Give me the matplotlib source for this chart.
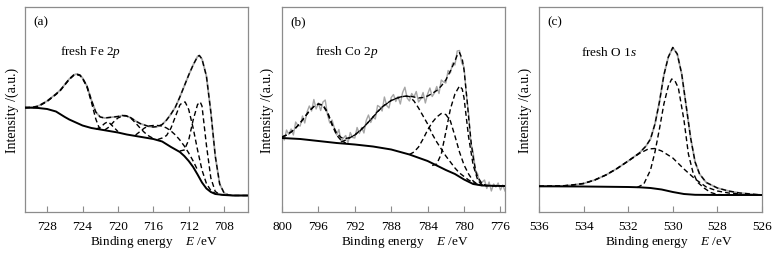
import matplotlib
matplotlib.use("Agg")
import matplotlib.pyplot as plt

plt.rcParams['font.family'] = ['Liberation Serif', 'DejaVu Serif']
plt.rcParams['mathtext.fontset'] = 'custom'
plt.rcParams['mathtext.rm'] = 'Liberation Serif'
plt.rcParams['mathtext.it'] = 'Liberation Serif:italic'

# ---------------- Panel (a): Fe 2p ----------------
a_bg_E = [730.5, 729, 728, 727, 726, 725.5, 725, 724, 723, 722, 721, 720, 719, 718, 717, 716, 715, 714,
          713.5, 713, 712.5, 712, 711.5, 711, 710.5, 710, 709.5, 709, 708, 707, 705.3]
a_bg_v = [104.5, 104, 103, 100.5, 95, 92.5, 90.5, 86.5, 84, 82.5, 81, 79.5, 77.5, 76, 74.5, 73, 70.5, 65,
          62.5, 60, 56, 51, 45, 37.5, 29.5, 23.5, 20, 18, 17, 16.5, 16.5]
a_env_E = [730.5, 729.5, 729, 728.5, 728, 727.5, 727, 726.5, 726, 725.5, 725, 724.7, 724.3, 724, 723.5,
           723, 722.5, 722, 721.5, 721, 720.5, 720, 719.5, 719, 718.5, 718, 717.5, 717, 716.5, 716, 715.5,
           715, 714.5, 714, 713.5, 713, 712.5, 712, 711.5, 711, 710.8, 710.5, 710, 709.5, 709, 708.5, 708,
           707.5, 707, 705.3]
a_env_v = [104, 105, 106, 108.5, 111, 114.5, 118, 122, 127.5, 133, 137, 138, 137, 134, 126,
           112, 100, 95, 94, 94.5, 95, 95.5, 96.5, 96, 94, 91, 88.5, 87, 85.5, 85, 85.5,
           87.5, 92, 98, 105, 115, 126, 137, 147, 155.5, 156.5, 153, 136, 100, 56, 28, 19,
           17, 16.5, 16.5]
a_c1_E = [730.5, 729.5, 729, 728.5, 728, 727.5, 727, 726.5, 726, 725.5, 725, 724.7, 724.3, 724, 723.5, 723, 722.5, 722.2, 722]
a_c1_v = [104.5, 104.5, 105.5, 108, 110.5, 114, 117.5, 121.5, 127, 132.5, 136.5, 137.5, 136.5, 133.5, 125, 110, 93, 86, 82.5]
a_c2_E = [722.5, 722, 721.5, 721.2, 721, 720.5, 720]
a_c2_v = [83, 84.5, 88.5, 90, 89.5, 85, 80.5]
a_c3_E = [721.5, 721, 720.5, 720, 719.5, 719.2, 719, 718.5, 718, 717.5, 717, 716.5, 716]
a_c3_v = [82, 85, 90, 94, 96, 96.5, 96, 93.5, 89, 84, 79.5, 76, 73.5]
a_c4_E = [718, 717.5, 717, 716.5, 716, 715.5, 715, 714.5, 714, 713.5, 713, 712.5, 712, 711.5, 711]
a_c4_v = [77, 80.5, 84, 86, 86.5, 86.5, 86, 84, 81, 77, 72, 66, 59, 51, 42]
a_c5_E = [715.5, 715, 714.5, 714, 713.5, 713, 712.7, 712.4, 712, 711.5, 711, 710.5, 710, 709.5, 709]
a_c5_v = [72.5, 74, 76.5, 84, 95.5, 107, 109.5, 110, 102.5, 84, 62, 42, 28.5, 21.5, 18.5]
a_c6_E = [713, 712.5, 712, 711.5, 711, 710.7, 710.5, 710, 709.5, 709, 708.5, 708]
a_c6_v = [61, 62, 72, 92, 107.5, 110, 106, 67, 34, 20.5, 17.5, 17]

# ---------------- Panel (b): Co 2p ----------------
b_bg_E = [800, 798, 796, 794, 792, 790, 788, 786, 784, 782, 781, 780, 779, 778, 776, 775.5]
b_bg_v = [74, 73, 71, 69, 67.5, 65.5, 62.5, 57.5, 51, 42, 38, 32.5, 28, 26.5, 26, 26]
b_env_E = [800, 799.5, 799, 798.5, 798, 797.5, 797, 796.5, 796, 795.5, 795, 794.5, 794, 793.5, 793,
           792.5, 792, 791.5, 791, 790.5, 790, 789.5, 789, 788.5, 788, 787.5, 787, 786.5, 786, 785.5,
           785, 784.5, 784, 783.5, 783, 782.5, 782, 781.5, 781, 780.7, 780.5, 780.2, 780, 779.7, 779.5,
           779.2, 779, 778.7, 778.5, 778, 777.5, 777, 776, 775.5]
b_env_v = [75, 77, 80, 84, 89, 95, 101, 105.5, 108, 107, 100, 88, 79, 74.5, 73.5,
           74.5, 77, 80.5, 85, 90, 95, 100.5, 105, 108.5, 111.5, 113.5, 115, 115.8, 116, 115,
           114, 114.5, 116, 118.5, 121.5, 126, 132, 141, 151, 158, 159.5, 153, 142, 115, 95,
           68, 55, 40, 35, 28, 26.5, 26, 26, 26]
b_data_E = [800.00, 799.75, 799.50, 799.25, 799.00, 798.75, 798.50, 798.25, 798.00, 797.75, 797.50,
            797.25, 797.00, 796.75, 796.50, 796.25, 796.00, 795.75, 795.50, 795.25, 795.00, 794.75,
            794.50, 794.25, 794.00, 793.75, 793.50, 793.25, 793.00, 792.75, 792.50, 792.25, 792.00,
            791.75, 791.50, 791.25, 791.00, 790.75, 790.50, 790.25, 790.00, 789.75, 789.50, 789.25,
            789.00, 788.75, 788.50, 788.25, 788.00, 787.75, 787.50, 787.25, 787.00, 786.75, 786.50,
            786.25, 786.00, 785.75, 785.50, 785.25, 785.00, 784.75, 784.50, 784.25, 784.00, 783.75,
            783.50, 783.25, 783.00, 782.75, 782.50, 782.25, 782.00, 781.75, 781.50, 781.25, 781.00,
            780.75, 780.50, 780.25, 780.00, 779.75, 779.50, 779.25, 779.00, 778.75, 778.50, 778.25,
            778.00, 777.75, 777.50, 777.25, 777.00, 776.75, 776.50, 776.25, 776.00, 775.75, 775.50]
b_data_v = [77, 72, 82, 77.5, 83, 77, 90, 86.5, 86, 96, 89,
            100, 106, 101, 112.5, 103, 109, 101.5, 110, 112, 97, 89,
            92, 84, 77, 82.5, 70.5, 74, 76.5, 69, 79.5, 74.5, 74,
            84.5, 78.5, 84.5, 79, 91.5, 97, 89.5, 95, 93, 106.5, 105,
            101, 115, 106.5, 104, 114.5, 117.5, 110.5, 115.5, 108, 119.5, 124.8,
            114, 111, 118.5, 115, 120.5, 110, 113, 119.5, 109, 118, 124,
            115.5, 119, 125.5, 118.5, 132, 130, 129, 141.5, 139, 149, 147,
            161, 161.5, 149, 145, 118, 99, 69, 60, 42, 38, 27,
            30, 32, 23.5, 30, 21, 28, 25, 29, 22, 27, 21]
b_c1_E = [800, 799.5, 799, 798.5, 798, 797.5, 797, 796.5, 796, 795.5, 795, 794.5, 794, 793.5, 793]
b_c1_v = [75, 77, 80, 84, 89, 95, 101, 105.5, 108, 106.5, 99, 87, 77, 71.5, 69]
b_c2_E = [793.5, 793, 792, 791, 790, 789, 788, 787, 786.5, 786, 785.5, 785, 784.5, 784, 783.5, 783,
          782.5, 782, 781.5, 781, 780.5, 780, 779.5, 779, 778.5, 778]
b_c2_v = [70, 72, 77, 85, 95, 105, 111.5, 115, 115.8, 115.5, 111, 104, 96, 88, 78, 70,
          63, 56, 50, 44, 39, 35.5, 32, 29.5, 27.5, 26.5]
b_c3_E = [786, 785.5, 785, 784.5, 784, 783.5, 783, 782.5, 782, 781.5, 781, 780.5, 780, 779.5, 779, 778.5, 778]
b_c3_v = [57.5, 60, 65, 73, 82, 89.5, 95, 98.5, 97.5, 91, 76, 60, 47, 38, 31, 27.5, 26.5]
b_c4_E = [783.5, 783, 782.5, 782, 781.5, 781, 780.5, 780.2, 780, 779.5, 779, 778.5, 778, 777.5]
b_c4_v = [46.5, 48, 58, 80, 103, 118, 126, 123, 114, 75, 47, 32, 27, 26]

# ---------------- Panel (c): O 1s ----------------
c_bg_E = [536, 534, 532, 531.5, 531, 530.5, 530, 529.5, 529, 528, 526]
c_bg_v = [25.7, 25.5, 25, 24.7, 24, 22.5, 20, 18, 17.2, 17, 17]
c_env_E = [536, 535, 534.5, 534, 533.5, 533, 532.5, 532, 531.5, 531.2, 531, 530.8, 530.6, 530.4, 530.2,
           530, 529.8, 529.6, 529.4, 529.2, 529, 528.8, 528.5, 528, 527.5, 527, 526]
c_env_v = [25.7, 26, 27, 28.5, 32, 37, 43.5, 51, 59, 66, 73, 88, 110, 137, 155,
           164.5, 158, 138, 106, 74, 50, 38, 29.5, 24, 21, 19, 17]
c_c1_E = [536, 535, 534.5, 534, 533.5, 533, 532.5, 532, 531.5, 531.1, 530.8, 530.5, 530, 529.5, 529,
          528.5, 528, 527.5, 527]
c_c1_v = [25.7, 26, 27, 28.5, 32, 37, 43.5, 51, 58.5, 63, 63.5, 61, 54, 43, 33,
          25, 21, 19, 18]
c_c2_E = [531.6, 531.3, 531, 530.8, 530.6, 530.4, 530.2, 530.05, 529.9, 529.75, 529.5, 529.3, 529.1,
          528.9, 528.6, 528.3, 528, 527.5]
c_c2_v = [24.5, 28, 42, 60, 83, 108, 126, 133, 131, 124, 92, 58, 40,
          30, 24, 19.5, 17.5, 17]

panels = [
    dict(tag='(a)', name=r'fresh Fe 2$p$', xlim=(730.5, 705.3), ticks=[728, 724, 720, 716, 712, 708],
         bg=(a_bg_E, a_bg_v), data=(a_env_E, a_env_v), env=(a_env_E, a_env_v),
         comps=[(a_c1_E, a_c1_v), (a_c2_E, a_c2_v), (a_c3_E, a_c3_v), (a_c4_E, a_c4_v),
                (a_c5_E, a_c5_v), (a_c6_E, a_c6_v)],
         left=25, name_dx=35, xl=0.29, yl=-0.058, dlw=1.3),
    dict(tag='(b)', name=r'fresh Co 2$p$', xlim=(800, 775.5), ticks=[800, 796, 792, 788, 784, 780, 776],
         bg=(b_bg_E, b_bg_v), data=(b_data_E, b_data_v), env=(b_env_E, b_env_v),
         comps=[(b_c1_E, b_c1_v), (b_c2_E, b_c2_v), (b_c3_E, b_c3_v), (b_c4_E, b_c4_v)],
         left=282, name_dx=33, xl=0.265, yl=-0.067, dlw=1.0),
    dict(tag='(c)', name=r'fresh O 1$s$', xlim=(536, 526), ticks=[536, 534, 532, 530, 528, 526],
         bg=(c_bg_E, c_bg_v), data=(c_env_E, c_env_v), env=(c_env_E, c_env_v),
         comps=[(c_c1_E, c_c1_v), (c_c2_E, c_c2_v)],
         left=539, name_dx=42, xl=0.296, yl=-0.063, dlw=1.3),
]

W, H = 777, 255
fig = plt.figure(figsize=(W / 100, H / 100), dpi=100)
ax_w, ax_h = 223, 205
ax_top = 8
spine_col = '#8c8c8c'
dash = (3.6, 2.2)

for p in panels:
    ax = fig.add_axes([p['left'] / W, (H - ax_top - ax_h) / H, ax_w / W, ax_h / H])
    ax.plot(*p['data'], color='#a6a6a6', lw=p['dlw'], zorder=2)
    for cE, cv in p['comps']:
        ax.plot(cE, cv, color='black', lw=1.0, ls=(0, dash), zorder=3)
    ax.plot(*p['env'], color='black', lw=1.0, ls=(0, dash), zorder=4)
    ax.plot(*p['bg'], color='black', lw=1.4, zorder=5)
    ax.set_xlim(*p['xlim'])
    ax.set_ylim(0, 205)
    ax.set_xticks(p['ticks'])
    ax.set_yticks([])
    ax.tick_params(axis='x', direction='in', length=4, width=0.8, color=spine_col, pad=6, labelsize=9.5)
    for s in ax.spines.values():
        s.set_color(spine_col)
        s.set_linewidth(0.9)
    ax.set_xlabel(r'Binding energy    $E$ /eV', fontsize=9.5, ha='left', va='center')
    ax.xaxis.set_label_coords(p['xl'], -0.1415)
    ax.set_ylabel('Intensity /(a.u.)', fontsize=10, va='center')
    ax.yaxis.set_label_coords(p['yl'], 0.5)
    ax.text(8 / ax_w, 1 - 14 / ax_h, p['tag'], transform=ax.transAxes, fontsize=9.5, ha='left', va='center')
    ax.text(p['name_dx'] / ax_w, 1 - 44 / ax_h, p['name'], transform=ax.transAxes, fontsize=9.5,
            ha='left', va='center')

fig.savefig('out.png', dpi=100)
